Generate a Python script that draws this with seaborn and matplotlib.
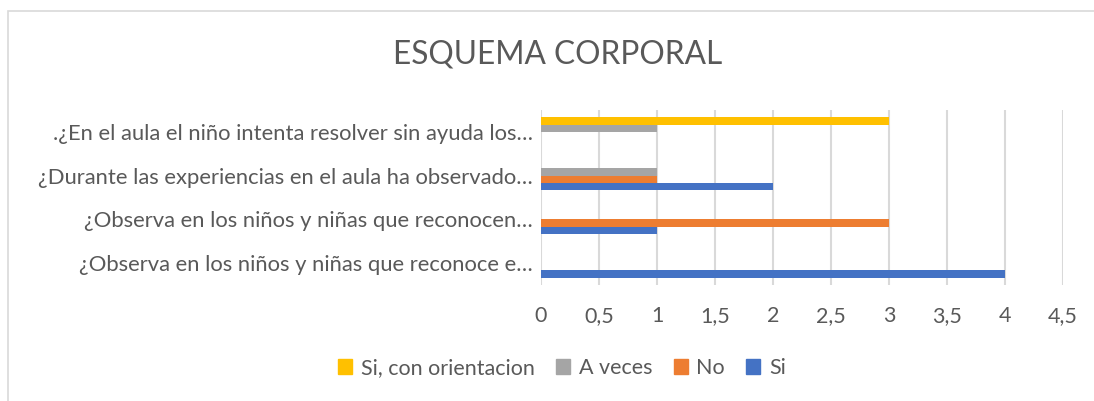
import matplotlib
matplotlib.use("Agg")
import matplotlib.pyplot as plt
import seaborn as sns
import pandas as pd
from matplotlib.patches import Rectangle
from matplotlib.ticker import FuncFormatter

# ---- data ----
categories = [
    ".¿En el aula el niño intenta resolver sin ayuda los…",
    "¿Durante las experiencias en el aula ha observado…",
    "¿Observa en los niños y niñas que reconocen…",
    "¿Observa en los niños y niñas que reconoce e…",
]
series_names = ["Si, con orientacion", "A veces", "No", "Si"]
si_con_orientacion = [3, 0, 0, 0]
a_veces = [1, 1, 0, 0]
no = [0, 1, 3, 0]
si = [0, 2, 1, 4]
colors = ["#FFC000", "#A5A5A5", "#ED7D31", "#4472C4"]
x_ticks = [0, 0.5, 1, 1.5, 2, 2.5, 3, 3.5, 4, 4.5]

values = [si_con_orientacion, a_veces, no, si]
rows = []
for name, vals in zip(series_names, values):
    for cat, v in zip(categories, vals):
        rows.append({"cat": cat, "serie": name, "valor": v})
df = pd.DataFrame(rows)

sns.set_theme(style="white")
plt.rcParams["font.family"] = ["Lato", "DejaVu Sans"]
text_color = "#595959"

fig = plt.figure(figsize=(10.94, 4.01), dpi=100)
ax = fig.add_axes([541 / 1094, 1 - 285 / 401, (1063 - 541) / 1094, (285 - 110) / 401])

sns.barplot(data=df, y="cat", x="valor", hue="serie", order=categories,
            hue_order=series_names, palette=colors, orient="h", width=0.667,
            saturation=1, ax=ax, legend=False, linewidth=0)

ax.set_xlim(0, 4.5)
ax.set_xticks(x_ticks)
ax.xaxis.set_major_formatter(FuncFormatter(lambda v, p: ("%g" % v).replace(".", ",")))
ax.grid(axis="x", color="#D9D9D9", linewidth=1.5)
ax.set_axisbelow(True)
for s in ax.spines.values():
    s.set_visible(False)
ax.set_xlabel("")
ax.set_ylabel("")
ax.tick_params(axis="y", length=0, labelsize=15.8, colors=text_color, pad=6)
ax.tick_params(axis="x", length=0, labelsize=15.5, colors=text_color, pad=15)

fig.text(558 / 1094, 1 - 55 / 401, "ESQUEMA CORPORAL", ha="center", va="center",
         fontsize=22.8, color=text_color, fontweight="normal")

handles = [Rectangle((0, 0), 1, 1, color=c) for c in colors]
fig.legend(handles, series_names, loc="center", ncol=4,
           bbox_to_anchor=(562 / 1094, 1 - 368 / 401), frameon=False,
           fontsize=15.5, labelcolor=text_color, handlelength=0.65, handleheight=0.65,
           handletextpad=0.4, columnspacing=1.0)

fig.patches.append(Rectangle((8 / 1094, -0.1), 1.2, 1 - 11 / 401 + 0.1,
                             transform=fig.transFigure, fill=False,
                             edgecolor="#D9D9D9", linewidth=1.2))

fig.savefig("out.png", dpi=100)
